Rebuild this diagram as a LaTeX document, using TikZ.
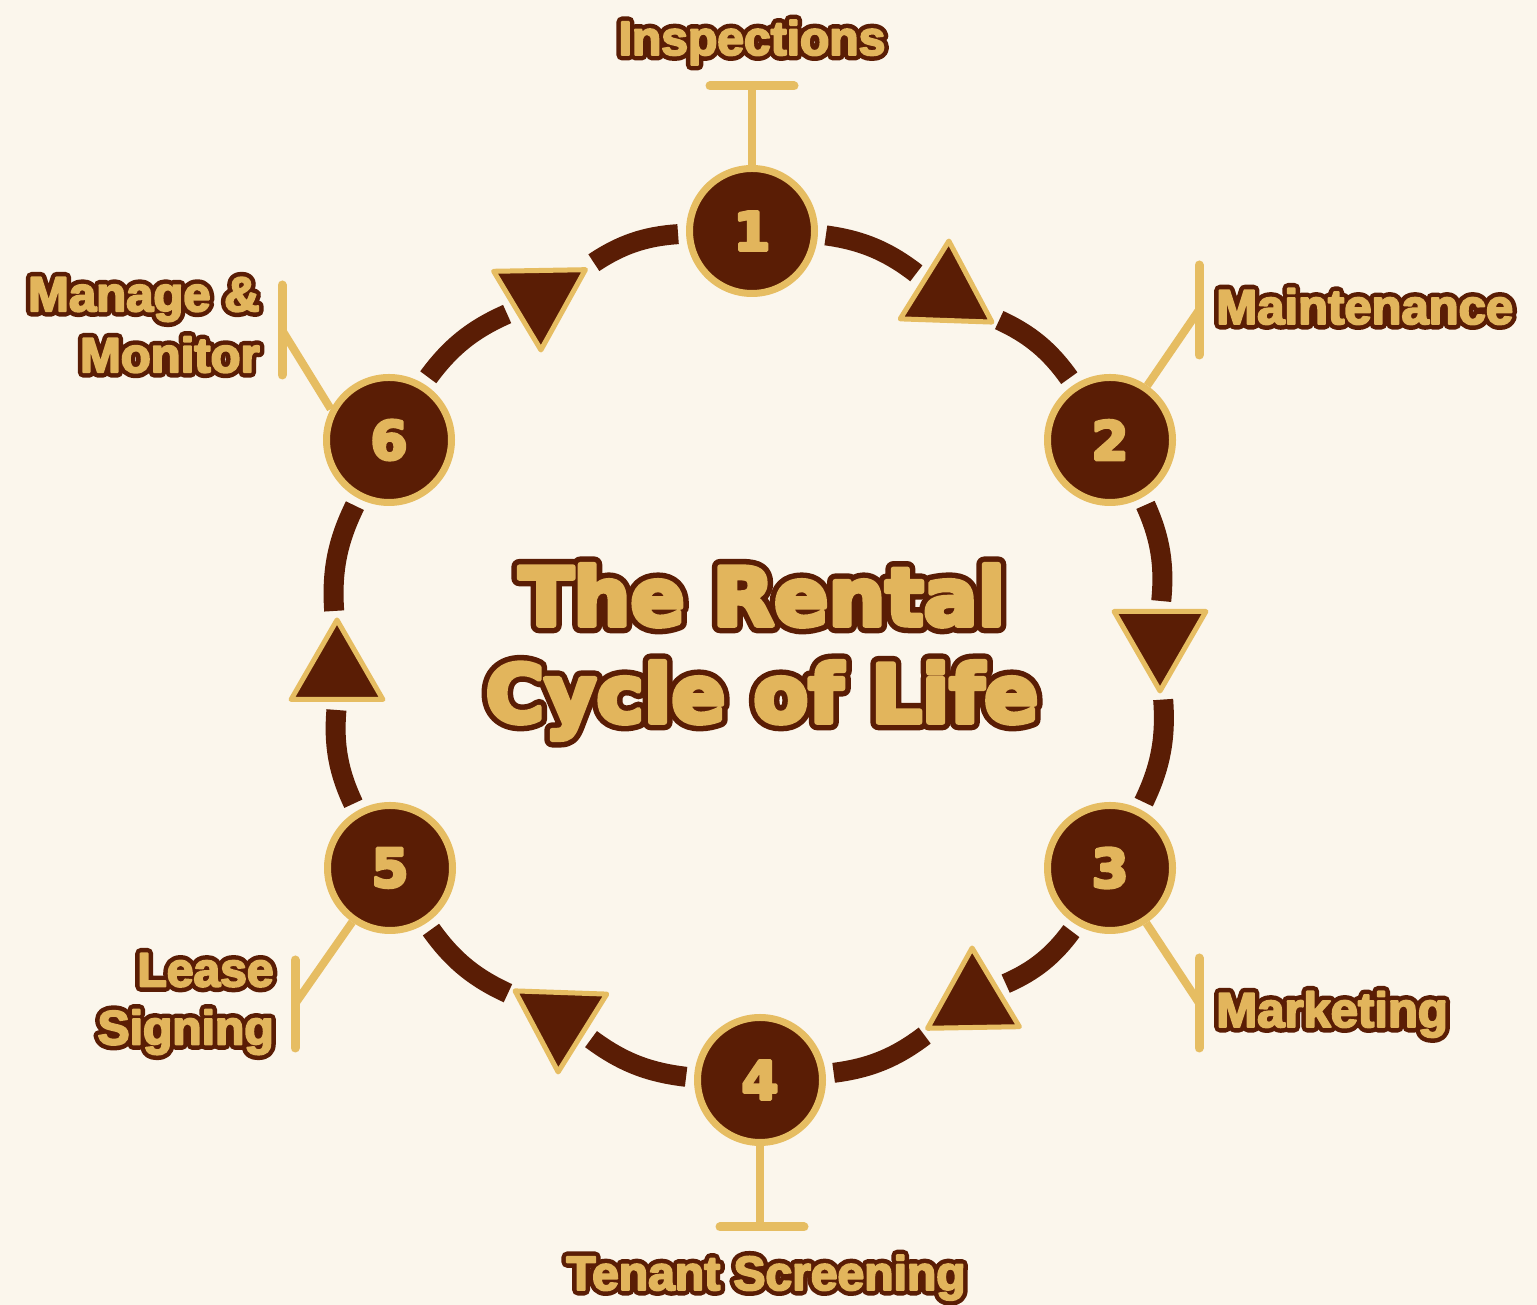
\documentclass[tikz,border=0pt]{standalone}
\usepackage{fontspec}
\usetikzlibrary{shapes.geometric}
\newfontfamily\lblfont{Liberation Sans}
\newfontfamily\ttlfont{DejaVu Sans}
\definecolor{bg}{RGB}{251,246,236}
\definecolor{brn}{RGB}{90,29,5}
\definecolor{gld}{RGB}{230,189,98}
\definecolor{gtx}{RGB}{226,181,92}
% #1 outline stroke width, #2 fill-emboldening stroke width, #3 text
\newcommand\outl[3]{\rlap{\color{brn}\special{pdf:literal direct 1 j 1 J #1 w 2 Tr}#3}\special{pdf:literal direct 1 j #2 w 2 Tr}#3\special{pdf:literal direct 0 Tr}}
\newcommand\heavy[2]{\special{pdf:literal direct 1 j #1 w 2 Tr}#2\special{pdf:literal direct 0 Tr}}
\tikzset{
  ringseg/.style={draw=brn, line width=10pt, shorten <=4pt, shorten >=4pt},
  stepnode/.style={circle, fill=brn, draw=gld, line width=3.5pt, minimum size=62.5pt, inner sep=0pt, text=gtx, font=\ttlfont\bfseries\fontsize{26.5}{27}\selectfont},
  tri/.style={regular polygon, regular polygon sides=3, fill=brn, draw=gld, line width=2.5pt, minimum size=53pt, inner sep=0pt, line join=round},
  lead/.style={draw=gld, line width=4pt},
  bar/.style={draw=gld, line width=4.5pt, line cap=round},
  lbl/.style={text=gtx, font=\lblfont\bfseries\fontsize{24}{29}\selectfont, inner sep=0pt}
}
\begin{document}
\begin{tikzpicture}[x=0.5pt,y=0.5pt]
\useasboundingbox (0,0) rectangle (1537,1305);
\fill[bg] (0,0) rectangle (1537,1305);
% step circles
\node[stepnode] (n1) at (752,1074) {\heavy{1.6}{1}};
\node[stepnode] (n2) at (1110,865) {\heavy{1.6}{2}};
\node[stepnode] (n3) at (1110,437) {\heavy{1.6}{3}};
\node[stepnode] (n4) at (760,225) {\heavy{1.6}{4}};
\node[stepnode] (n5) at (390,437) {\heavy{1.6}{5}};
\node[stepnode] (n6) at (389,865) {\heavy{1.6}{6}};
% triangles
\node[tri, rotate=-2] (t12) at (947,1011) {};
\node[tri, rotate=180] (t23) at (1160,667) {};
\node[tri, rotate=1] (t34) at (973,304) {};
\node[tri, rotate=178] (t45) at (560,286) {};
\node[tri] (t56) at (337,632) {};
\node[tri, rotate=181] (t61) at (540,1008) {};
% ring
\draw[ringseg] (n1) to[bend left=15] (t12);
\draw[ringseg] (t12) to[bend left=15] (n2);
\draw[ringseg] (n2) to[bend left=15] (t23);
\draw[ringseg] (t23) to[bend left=15] (n3);
\draw[ringseg] (n3) to[bend left=15] (t34);
\draw[ringseg] (t34) to[bend left=15] (n4);
\draw[ringseg] (n4) to[bend left=15] (t45);
\draw[ringseg] (t45) to[bend left=15] (n5);
\draw[ringseg] (n5) to[bend left=15] (t56);
\draw[ringseg] (t56) to[bend left=15] (n6);
\draw[ringseg] (n6) to[bend left=15] (t61);
\draw[ringseg] (t61) to[bend left=15] (n1);
% leaders
\coordinate (b1) at (752,1219);
\coordinate (b2) at (1199,995);
\coordinate (b3) at (1199,302);
\coordinate (b4) at (760,78);
\coordinate (b5) at (295,301);
\coordinate (b6) at (282,975);
\draw[lead] (n1) -- (b1);
\draw[lead] (n2) -- (b2);
\draw[lead] (n3) -- (b3);
\draw[lead] (n4) -- (b4);
\draw[lead] (n5) -- (b5);
\draw[lead] (n6.152) -- (b6);
\draw[bar] ([xshift=-21pt]b1) -- ([xshift=21pt]b1);
\draw[bar] ([yshift=22.5pt]b2) -- ([yshift=-22.5pt]b2);
\draw[bar] ([yshift=22.5pt]b3) -- ([yshift=-22.5pt]b3);
\draw[bar] ([xshift=-20pt]b4) -- ([xshift=22pt]b4);
\draw[bar] ([yshift=22pt]b5) -- ([yshift=-22pt]b5);
\draw[bar] ([yshift=22.5pt]b6) -- ([yshift=-22.5pt]b6);
% labels
\node[lbl, anchor=base] (l1) at (752,1250) {\outl{5.5}{1}{Inspections}};
\node[lbl, anchor=base west, font=\lblfont\bfseries\fontsize{24.5}{29}\selectfont] (l2) at (1216,981) {\outl{5.5}{1}{Maintenance}};
\node[lbl, anchor=base west, font=\lblfont\bfseries\fontsize{24.5}{29}\selectfont] (l3) at (1216,278) {\outl{5.5}{1}{Marketing}};
\node[lbl, anchor=base] (l4) at (766,15) {\outl{5.5}{1}{Tenant Screening}};
\node[lbl, anchor=east, align=right] (l5) at (274,301) {\outl{5.5}{1}{Lease}\\\outl{5.5}{1}{Signing}};
\node[lbl, anchor=east, align=right, font=\lblfont\bfseries\fontsize{24.5}{30.5}\selectfont] (l6) at (260,980) {\outl{5.5}{1}{Manage \&}\\\outl{5.5}{1}{Monitor}};
% title
\node[text=gtx, align=center, inner sep=0pt, font=\ttlfont\bfseries\fontsize{40}{48.5}\selectfont] (title) at (762,653) {\outl{8}{2.5}{The Rental}\\\outl{8}{2.5}{Cycle of Life}};
\end{tikzpicture}
\end{document}
